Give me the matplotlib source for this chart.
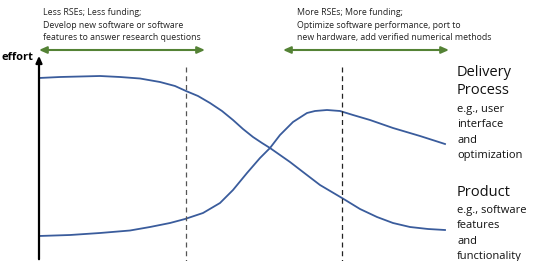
import matplotlib.pyplot as plt

# Curves (x position, effort drawn downward in pixels)
product_x = [39, 60, 80, 100, 120, 140, 160, 175, 186, 198, 210, 222, 233, 243, 253, 262, 270,
             280, 290, 303, 320, 342, 360, 377, 393, 410, 428, 445]
product_y = [78, 77, 76.5, 76, 77, 78.5, 82, 86, 91, 96, 103, 111, 120, 129, 137, 143, 148,
             155, 162, 172, 185, 198, 209, 217, 223, 227, 229, 230]

delivery_x = [39, 70, 100, 130, 150, 170, 185, 203, 220, 233, 247, 260, 270, 280, 293, 307,
              315, 327, 340, 353, 370, 393, 420, 445]
delivery_y = [236, 235, 233, 230.5, 227, 223, 219, 213, 203, 190, 173, 158, 148, 135, 122, 113,
              111, 110, 111, 115, 120, 128, 136, 144]

phase_lines = [186, 342]
phase_ranges = [(39, 205), (283, 449)]
phase_texts = [
  "Less RSEs; Less funding;\nDevelop new software or software\nfeatures to answer research questions",
  "More RSEs; More funding;\nOptimize software performance, port to\nnew hardware, add verified numerical methods",
]
phase_text_x = [43, 297]

labels = [("Delivery\nProcess", "e.g., user\ninterface\nand\noptimization", 65),
          ("Product", "e.g., software\nfeatures\nand\nfunctionality", 185)]

blue = "#3a5c9c"
green = "#548235"
font = "Open Sans"

fig = plt.figure(figsize=(5.33, 2.61), dpi=100)
ax = fig.add_axes([0, 0, 1, 1])
ax.set_xlim(0, 533)
ax.set_ylim(261, 0)
ax.axis("off")

# Curves
ax.plot(product_x, product_y, color=blue, lw=1.3, solid_joinstyle="round")
ax.plot(delivery_x, delivery_y, color=blue, lw=1.3, solid_joinstyle="round")

# Dashed phase separators
ax.plot([phase_lines[0]] * 2, [67, 261], color="#555555", lw=0.9, ls=(0, (4, 3)))
ax.plot([phase_lines[1]] * 2, [67, 261], color="#222222", lw=0.9, ls=(0, (4, 3)))

# Effort axis
ax.annotate("", xy=(39, 53), xytext=(39, 262),
            arrowprops=dict(arrowstyle="-|>,head_width=0.18,head_length=0.4", color="black", lw=1.6))
ax.text(33, 58, "effort", ha="right", va="center", fontsize=8, fontweight="bold", family=font)

# Phase arrows and descriptions
for (x0, x1), tx, txt in zip(phase_ranges, phase_text_x, phase_texts):
  ax.annotate("", xy=(x1, 50), xytext=(x0, 50),
              arrowprops=dict(arrowstyle="<|-|>,head_width=0.2,head_length=0.45", color=green, lw=1.5,
                              shrinkA=0, shrinkB=0))
  ax.text(tx, 8, txt, ha="left", va="top", fontsize=6.3, family=font, color="#222222", linespacing=1.5)

# Right-side labels
for title, sub, y in labels:
  ax.text(457, y, title, ha="left", va="top", fontsize=10.5, family=font, color="#111111", linespacing=1.3)
  n = title.count("\n") + 1
  ax.text(457, y + 19 * n + 1, sub, ha="left", va="top", fontsize=8, family=font, color="#111111", linespacing=1.55)

fig.savefig("out.png", dpi=100)
